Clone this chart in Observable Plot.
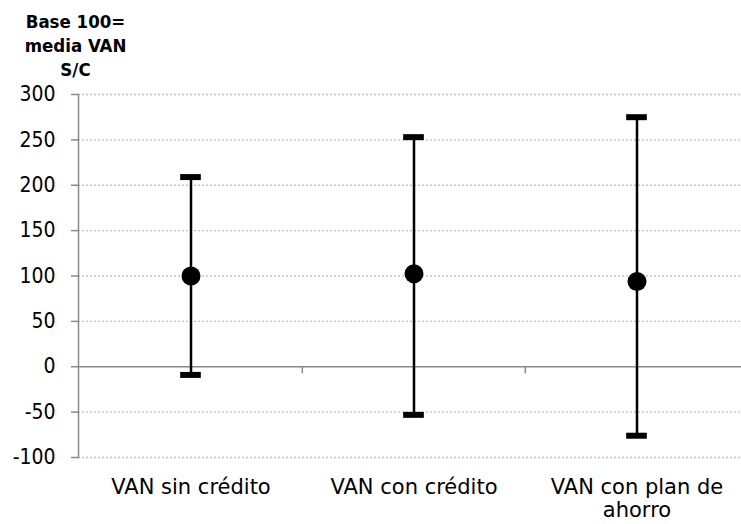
<!DOCTYPE html>
<html><head><meta charset="utf-8">
<script src="https://cdn.jsdelivr.net/npm/d3@7"></script>
<script src="https://cdn.jsdelivr.net/npm/@observablehq/plot@0.6"></script>
<style>
body{margin:0;background:#fff;}
#wrap{position:relative;width:741px;height:524px;}
#title{position:absolute;left:0;top:10px;width:151px;text-align:center;font-family:"DejaVu Sans Condensed";font-weight:bold;font-size:18.5px;line-height:24px;color:#000;}
</style></head><body>
<div id="wrap"><div id="title">Base 100=<br>media VAN<br>S/C</div></div>
<script>
const categories = ["VAN sin crédito", "VAN con crédito", "VAN con plan de ahorro"];
const means = [100, 102.5, 94];
const highs = [209, 253, 275];
const lows = [-9, -53, -76];
const yTicks = [-100, -50, 0, 50, 100, 150, 200, 250, 300];

const data = categories.map((c, i) => ({c, mean: means[i], high: highs[i], low: lows[i]}));
const xRange = [78, 748];
const bw = (xRange[1] - xRange[0]) / categories.length;

const plot = Plot.plot({
  width: 741, height: 524,
  marginLeft: 78, marginRight: 0, marginTop: 94, marginBottom: 67,
  style: {fontFamily: "DejaVu Sans Condensed", fontSize: "21px", background: "transparent", color: "#000", overflow: "visible"},
  x: {domain: categories, range: xRange, padding: 0, axis: null},
  y: {domain: [-100, 300], axis: null},
  marks: [
    Plot.ruleY(yTicks.filter(d => d !== 0), {stroke: "#c4c4c4", strokeDasharray: "2,2", strokeWidth: 1.3}),
    Plot.ruleY([0], {stroke: "#8a8a8a", strokeWidth: 1.5}),
    Plot.axisY({ticks: yTicks, tickSize: 7, tickPadding: 16, tickFormat: d => String(d), stroke: "#8a8a8a", fill: "#000", fontSize: 21, strokeWidth: 1.5}),
    Plot.frame({anchor: "left", stroke: "#8a8a8a", strokeWidth: 1.5}),
    Plot.ruleX(categories.slice(1), {x: d => d, dx: -bw / 2, y1: 0, y2: 0, insetBottom: -7, stroke: "#8a8a8a", strokeWidth: 1.5}),
    Plot.ruleX(data, {x: "c", y1: "low", y2: "high", stroke: "#000", strokeWidth: 2.5}),
    Plot.tickY(data, {x: "c", y: "high", stroke: "#000", strokeWidth: 6, insetLeft: (bw - 21) / 2, insetRight: (bw - 21) / 2}),
    Plot.tickY(data, {x: "c", y: "low", stroke: "#000", strokeWidth: 6, insetLeft: (bw - 21) / 2, insetRight: (bw - 21) / 2}),
    Plot.dot(data, {x: "c", y: "mean", r: 9.5, fill: "#000", stroke: "none"}),
    Plot.text(data, {x: "c", text: "c", frameAnchor: "bottom", lineAnchor: "top", dy: 20, lineWidth: 9, lineHeight: 1.1, fontSize: 21, fontFamily: "DejaVu Sans", fill: "#000"})
  ]
});
document.getElementById("wrap").prepend(plot);
</script>
</body></html>
